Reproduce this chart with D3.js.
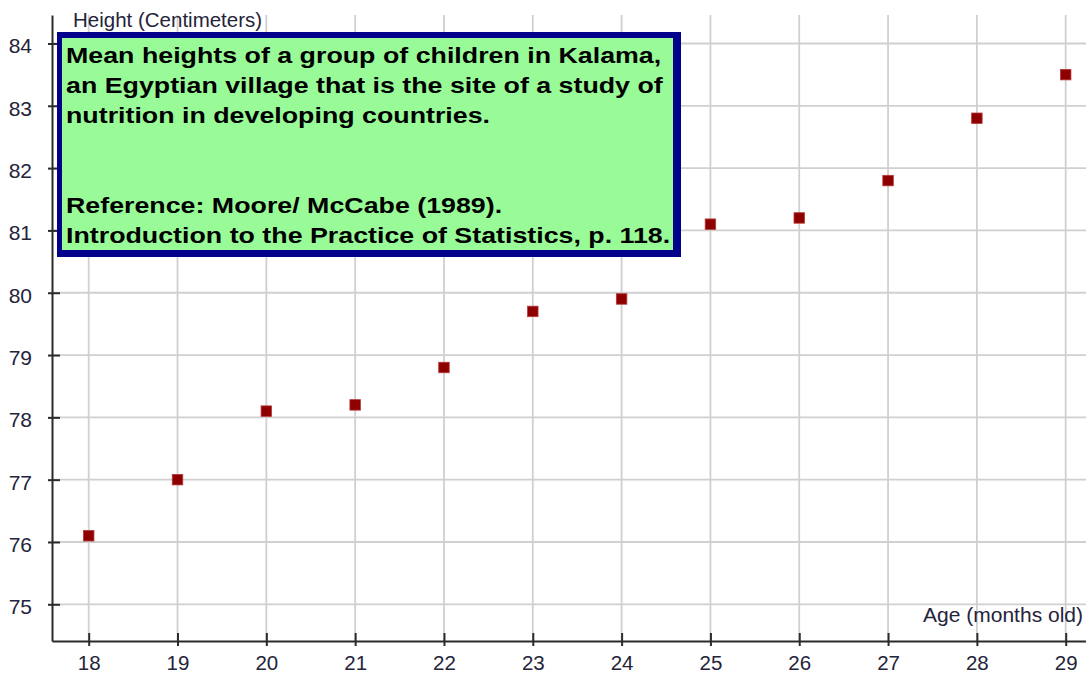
<!DOCTYPE html>
<html>
<head>
<meta charset="utf-8">
<script src="https://cdn.jsdelivr.net/npm/d3@7"></script>
<style>
  html, body { margin: 0; padding: 0; background: #fff; }
  svg { display: block; }
</style>
</head>
<body>
<svg id="chart" width="1086" height="673"></svg>
<script>
// ---- data ----
const ages = [18, 19, 20, 21, 22, 23, 24, 25, 26, 27, 28, 29];
const heights = [76.1, 77.0, 78.1, 78.2, 78.8, 79.7, 79.9, 81.1, 81.2, 81.8, 82.8, 83.5];
const xTicks = [18, 19, 20, 21, 22, 23, 24, 25, 26, 27, 28, 29];
const yTicks = [75, 76, 77, 78, 79, 80, 81, 82, 83, 84];
const xTitle = "Age (months old)";
const yTitle = "Height (Centimeters)";
const noteLines = [
  "Mean heights of a group of children in Kalama,",
  "an Egyptian village that is the site of a study of",
  "nutrition in developing countries.",
  "",
  "",
  "Reference: Moore/ McCabe (1989).",
  "Introduction to the Practice of Statistics, p. 118."
];

// ---- layout ----
const plotL = 52, plotR = 1086, plotT = 15, plotB = 641;
const svg = d3.select("#chart");

const x = d3.scaleLinear().domain([17.5868, 29.2286]).range([plotL, plotR]);
const y = d3.scaleLinear().domain([74.411, 84.457]).range([plotB, plotT]);

const axisFont = "'Liberation Sans', Arial, sans-serif";
const textColor = "#24243a";

// grid
const grid = svg.append("g");
grid.selectAll("line.v").data(xTicks).join("line")
  .attr("x1", d => x(d)).attr("x2", d => x(d))
  .attr("y1", plotT).attr("y2", plotB)
  .attr("stroke", "#d0d0d0").attr("stroke-width", 1.8);
grid.selectAll("line.h").data(yTicks).join("line")
  .attr("x1", plotL).attr("x2", plotR)
  .attr("y1", d => y(d)).attr("y2", d => y(d))
  .attr("stroke", "#d0d0d0").attr("stroke-width", 1.8);

// x axis
const xAxis = d3.axisBottom(x).tickValues(xTicks).tickSize(5).tickSizeOuter(0).tickPadding(9);
const gx = svg.append("g").attr("transform", `translate(0,${plotB})`).call(xAxis);
gx.select(".domain").attr("stroke", "#2b2b2b").attr("stroke-width", 2);
gx.selectAll(".tick line").attr("stroke", "#2b2b2b").attr("stroke-width", 2).attr("y1", -8);
gx.selectAll(".tick text").attr("font-family", axisFont).attr("font-size", 20.5).attr("fill", textColor);

// y axis
const yAxis = d3.axisLeft(y).tickValues(yTicks).tickSize(4).tickSizeOuter(0).tickPadding(16);
const gy = svg.append("g").attr("transform", `translate(${plotL},0)`).call(yAxis);
gy.select(".domain").attr("stroke", "#2b2b2b").attr("stroke-width", 2);
gy.selectAll(".tick line").attr("stroke", "#2b2b2b").attr("stroke-width", 2).attr("x2", 8).attr("x1", -4);
gy.selectAll(".tick text").attr("font-family", axisFont).attr("font-size", 21).attr("fill", textColor).attr("dy", "0.45em");

// axis titles
svg.append("text").attr("x", 73).attr("y", 27)
  .attr("font-family", axisFont).attr("font-size", 20.5).attr("fill", textColor)
  .text(yTitle);
svg.append("text").attr("x", 1083).attr("y", 622).attr("text-anchor", "end")
  .attr("font-family", axisFont).attr("font-size", 21).attr("fill", textColor)
  .text(xTitle);

// points
const ms = 10.5;
svg.append("g").selectAll("rect").data(ages).join("rect")
  .attr("x", (d) => x(d) - ms / 2)
  .attr("y", (d, i) => y(heights[i]) - ms / 2)
  .attr("width", ms).attr("height", ms)
  .attr("fill", "#8e0000").attr("stroke", "#b53a3a").attr("stroke-width", 0.8);

// note box
const box = svg.append("g");
box.append("rect").attr("x", 57).attr("y", 32).attr("width", 624).attr("height", 225).attr("fill", "#00008b");
box.append("rect").attr("x", 62).attr("y", 38).attr("width", 611).attr("height", 212).attr("fill", "#98fb98");
box.append("g").attr("transform", "translate(66,0) scale(1.24,1)")
  .selectAll("text").data(noteLines).join("text")
  .attr("x", 0).attr("y", (d, i) => 63 + i * 29.95)
  .attr("font-family", "'Liberation Sans', Arial, sans-serif").attr("font-weight", "bold")
  .attr("font-size", 21.6).attr("fill", "#000")
  .text(d => d);
</script>
</body>
</html>
